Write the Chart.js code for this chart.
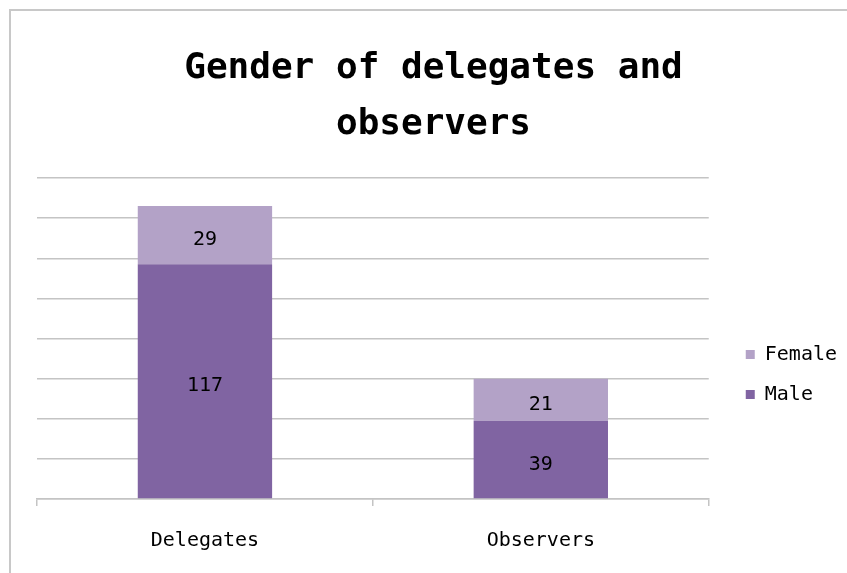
<!DOCTYPE html>
<html>
<head>
<meta charset="utf-8">
<script src="https://cdn.jsdelivr.net/npm/chart.js@4.4.0/dist/chart.umd.min.js"></script>
<style>
  html, body { margin: 0; padding: 0; background: #fff; }
  #wrap { width: 847px; height: 573px; }
</style>
</head>
<body>
<div id="wrap"><canvas id="gender-chart" width="847" height="573"></canvas></div>
<script>
'use strict';

// ===== DATA =====
const categories = ['Delegates', 'Observers'];
const maleValues = [117, 39];
const femaleValues = [29, 21];
const yMax = 160;
const yStep = 20;
const titleLines = ['Gender of delegates and', 'observers'];

const FONT = "'DejaVu Sans Mono', 'Liberation Mono', monospace";
const GRID = '#c4c4c4';

// Outer frame (left + top edge)
const framePlugin = {
  id: 'frame',
  beforeDraw(chart) {
    const ctx = chart.ctx;
    ctx.save();
    ctx.strokeStyle = '#c8c8c8';
    ctx.lineWidth = 2;
    ctx.beginPath();
    ctx.moveTo(10, 573);
    ctx.lineTo(10, 10);
    ctx.lineTo(847, 10);
    ctx.stroke();
    ctx.restore();
  }
};

// push the right-hand legend down next to the bars
const legendShift = {
  id: 'legendShift',
  afterLayout(chart) {
    const lg = chart.legend;
    if (!lg) return;
    lg.top += 83;
    lg.bottom += 83;
  }
};

// Values in the middle of each stacked segment
const valueLabels = {
  id: 'valueLabels',
  afterDatasetsDraw(chart) {
    const ctx = chart.ctx;
    ctx.save();
    ctx.font = `20px ${FONT}`;
    ctx.fillStyle = '#000';
    ctx.textAlign = 'center';
    ctx.textBaseline = 'middle';
    chart.data.datasets.forEach((ds, i) => {
      chart.getDatasetMeta(i).data.forEach((bar, j) => {
        const y = (bar.y + bar.base) / 2;
        ctx.fillText(ds.data[j], bar.x, y + 5);
      });
    });
    ctx.restore();
  }
};

new Chart(document.getElementById('gender-chart'), {
  type: 'bar',
  data: {
    labels: categories,
    datasets: [
      { label: 'Male', data: maleValues, backgroundColor: '#8064A2', barPercentage: 0.4, categoryPercentage: 1 },
      { label: 'Female', data: femaleValues, backgroundColor: '#B3A2C7', barPercentage: 0.4, categoryPercentage: 1 }
    ]
  },
  options: {
    responsive: false,
    animation: false,
    layout: { padding: { left: 20, right: 0, top: 10, bottom: 0 } },
    plugins: {
      title: {
        display: true,
        text: titleLines,
        color: '#000',
        font: { family: FONT, size: 36, weight: 'bold', lineHeight: 1.556 },
        padding: { top: 31, bottom: 25 }
      },
      legend: {
        position: 'right',
        reverse: true,
        labels: {
          boxWidth: 9,
          boxHeight: 9,
          padding: 20,
          color: '#000',
          font: { family: FONT, size: 20 }
        }
      },
      tooltip: { enabled: false }
    },
    scales: {
      x: {
        stacked: true,
        afterFit(scale) { scale.height = 74; },
        grid: { drawOnChartArea: false, drawTicks: true, tickLength: 7, color: GRID, lineWidth: 1.5 },
        border: { display: true, color: GRID, width: 1.5 },
        ticks: { color: '#000', padding: 23, font: { family: FONT, size: 20 } }
      },
      y: {
        stacked: true,
        min: 0,
        max: yMax,
        afterFit(scale) { scale.width = 17; },
        ticks: { display: false, stepSize: yStep },
        grid: { color: GRID, lineWidth: 1.5, drawTicks: false },
        border: { display: false }
      },
      yR: {
        position: 'right',
        display: true,
        afterFit(scale) { scale.width = 17; },
        ticks: { display: false },
        grid: { display: false, drawTicks: false },
        border: { display: false }
      }
    }
  },
  plugins: [framePlugin, legendShift, valueLabels]
});
</script>
</body>
</html>
